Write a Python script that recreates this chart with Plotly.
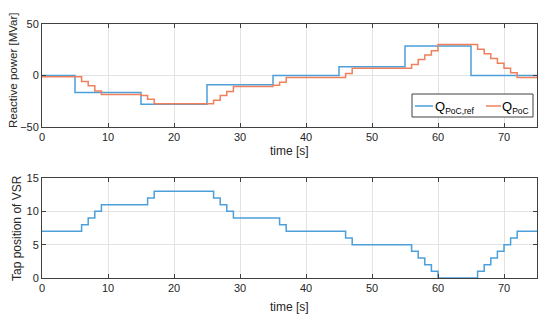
import plotly.graph_objects as go

# Data
t_ref = [0, 5, 15, 25, 35, 45, 55, 65, 75]
q_ref = [0, -16.5, -28, -9, 0, 8.6, 28.6, 0, 0]

t_poc = [0, 6, 7, 8, 9, 15, 16, 17, 26, 27, 28, 29, 35, 36, 37, 46, 47,
         56, 57, 58, 59, 60, 66, 67, 68, 69, 70, 71, 72, 75]
q_poc = [-1.3, -5.8, -10, -15, -18.4, -19.5, -23, -27.5, -24, -19.5, -15.5, -10.8,
         -9.5, -6.5, -2, 2, 7, 10.8, 15.5, 20, 24, 30, 25.4, 21, 16.5, 12, 7, 2.7, -2, -2]

t_tap = [0, 6, 7, 8, 9, 16, 17, 26, 27, 28, 29, 36, 37, 46, 47, 56, 57, 58, 59, 60,
         66, 67, 68, 69, 70, 71, 72, 75]
tap = [7, 8, 9, 10, 11, 12, 13, 12, 11, 10, 9, 8, 7, 6, 5, 4, 3, 2, 1, 0,
       1, 2, 3, 4, 5, 6, 7, 7]

x_ticks = [0, 10, 20, 30, 40, 50, 60, 70]
y1_ticks = [-50, 0, 50]
y2_ticks = [0, 5, 10, 15]

name_ref = "Q<sub>PoC,ref</sub>"
name_poc = "Q<sub>PoC</sub>"

BLUE = "#4d9fd9"
ORANGE = "#f0805c"
AXC = "#404040"
FONT = "Liberation Sans"

W, H = 550, 326
OFF = 8  # page body margin


def px(x):
    return (x - OFF) / W


def py(y):
    return 1 - (y - OFF) / H


fig = go.Figure()
fig.add_trace(go.Scatter(x=t_ref, y=q_ref, mode="lines", line=dict(shape="hv", color=BLUE, width=1.5),
                         name=name_ref, xaxis="x", yaxis="y"))
fig.add_trace(go.Scatter(x=t_poc, y=q_poc, mode="lines", line=dict(shape="hv", color=ORANGE, width=1.5),
                         name=name_poc, xaxis="x", yaxis="y"))
fig.add_trace(go.Scatter(x=t_tap, y=tap, mode="lines", line=dict(shape="hv", color=BLUE, width=1.5),
                         name="Tap", xaxis="x2", yaxis="y2"))

axcommon = dict(showline=True, linecolor=AXC, linewidth=1, mirror="ticks", ticks="inside",
                ticklen=4, tickcolor=AXC, showgrid=True, gridcolor="#e3e3e3", gridwidth=1,
                zeroline=False, automargin=False,
                tickfont=dict(family=FONT, size=11, color="#262626"))

x_dom = [px(42), px(537)]
fig.update_layout(
    width=W, height=H,
    margin=dict(l=0, r=0, t=0, b=0, autoexpand=False),
    paper_bgcolor="white", plot_bgcolor="white",
    font=dict(family=FONT, color="#262626"),
    xaxis=dict(domain=x_dom, range=[0, 75], tickvals=x_ticks, anchor="y", **axcommon),
    yaxis=dict(domain=[py(127), py(24)], range=[-50, 50], tickvals=y1_ticks, anchor="x", **axcommon),
    xaxis2=dict(domain=x_dom, range=[0, 75], tickvals=x_ticks, anchor="y2", **axcommon),
    yaxis2=dict(domain=[py(278), py(178)], range=[0, 15], tickvals=y2_ticks, anchor="x2", **axcommon),
    showlegend=False,
)

ann_font = dict(family=FONT, size=12, color="#262626")
fig.add_annotation(text="time [s]", x=px((42 + 537) / 2), y=py(151), xref="paper", yref="paper",
                   showarrow=False, font=ann_font, xanchor="center", yanchor="middle")
fig.add_annotation(text="time [s]", x=px((42 + 537) / 2), y=py(307), xref="paper", yref="paper",
                   showarrow=False, font=ann_font, xanchor="center", yanchor="middle")
fig.add_annotation(text="Reactive power [MVar]", x=px(13), y=py(71), xref="paper", yref="paper",
                   showarrow=False, font=dict(family=FONT, size=11.5, color="#262626"), textangle=-90,
                   xanchor="center", yanchor="middle")
fig.add_annotation(text="Tap position of VSR", x=px(17), y=py(228), xref="paper", yref="paper",
                   showarrow=False, font=ann_font, textangle=-90, xanchor="center", yanchor="middle")

# Legend (drawn as box + samples + labels)
fig.add_shape(type="rect", xref="paper", yref="paper", x0=px(412), x1=px(533), y0=py(117), y1=py(94),
              line=dict(color=AXC, width=1), fillcolor="white", layer="above")
fig.add_shape(type="line", xref="paper", yref="paper", x0=px(415), x1=px(433), y0=py(106), y1=py(106),
              line=dict(color=BLUE, width=1.5), layer="above")
fig.add_shape(type="line", xref="paper", yref="paper", x0=px(486), x1=px(501), y0=py(106), y1=py(106),
              line=dict(color=ORANGE, width=1.5), layer="above")
leg_font = dict(family=FONT, size=13, color="#000000")
fig.add_annotation(text="Q<sub><span style='font-size:8.5px'>PoC,ref</span></sub>", x=px(433), y=py(107),
                   xref="paper", yref="paper", showarrow=False,
                   font=leg_font, xanchor="left", yanchor="middle")
fig.add_annotation(text="Q<sub><span style='font-size:8.5px'>PoC</span></sub>", x=px(500), y=py(107),
                   xref="paper", yref="paper", showarrow=False,
                   font=leg_font, xanchor="left", yanchor="middle")

fig.write_html("out.html")
